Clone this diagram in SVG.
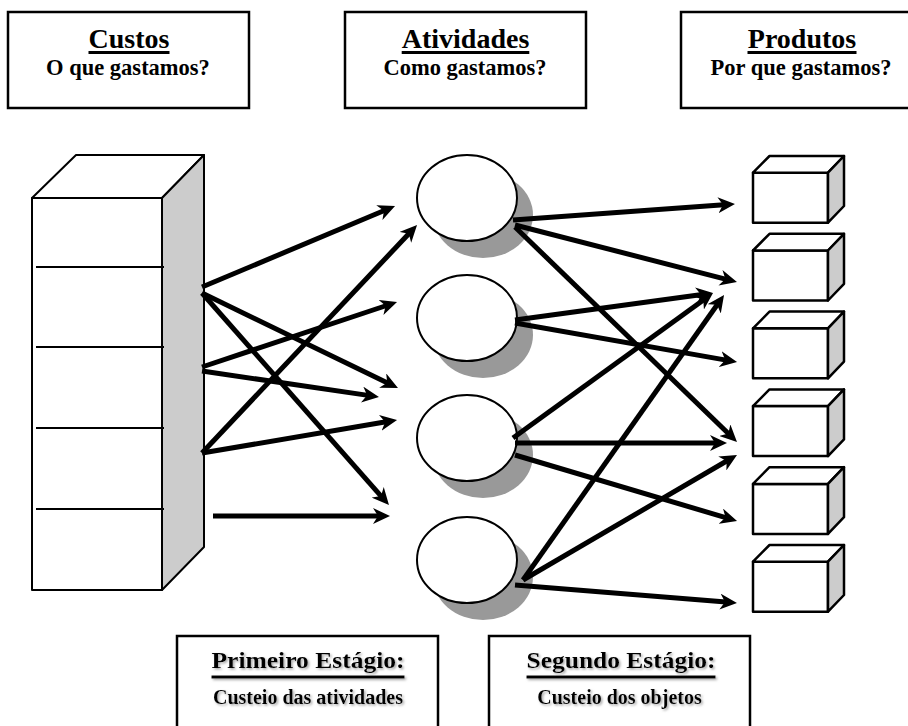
<svg xmlns="http://www.w3.org/2000/svg" width="908" height="726" viewBox="0 0 908 726">
  <style>
    .frame { fill: #ffffff; stroke: #000000; stroke-width: 2.5; }
    .title { font-family: "Liberation Serif", "Times New Roman", serif; font-weight: bold; font-size: 28px; text-anchor: middle; fill: #000000; }
    .sub { font-family: "Liberation Serif", "Times New Roman", serif; font-weight: bold; font-size: 22.5px; text-anchor: middle; fill: #000000; }
    .stage { font-family: "Liberation Serif", "Times New Roman", serif; font-weight: bold; font-size: 23px; text-anchor: middle; fill: #000000; }
    .stagesub { font-family: "Liberation Serif", "Times New Roman", serif; font-weight: bold; font-size: 20px; text-anchor: middle; fill: #000000; }
    .uline { stroke: #000000; stroke-width: 3; }
    .face { fill: #ffffff; stroke: #000000; stroke-width: 2; stroke-linejoin: round; }
    .side { fill: #cccccc; stroke: #000000; stroke-width: 2; stroke-linejoin: round; }
    .shelf { stroke: #000000; stroke-width: 2; }
    .bface { fill: #ffffff; stroke: #000000; stroke-width: 2.5; stroke-linejoin: round; }
    .bside { fill: #cccccc; stroke: #000000; stroke-width: 2.5; stroke-linejoin: round; }
    .act { fill: #ffffff; stroke: #000000; stroke-width: 2; }
    .actshadow { fill: #999999; }
    .flow { stroke: #000000; stroke-width: 5; fill: none; marker-end: url(#head); }
  </style>
  <defs>
    <marker id="head" markerUnits="userSpaceOnUse" viewBox="0 0 17 16" markerWidth="17" markerHeight="16" refX="6" refY="8" orient="auto">
      <path d="M0,0 L17,8 L0,16 L5,8 Z" fill="#000000"/>
    </marker>
    <filter id="soft" x="-10%" y="-30%" width="120%" height="160%">
      <feDropShadow dx="1.5" dy="1.5" stdDeviation="0.8" flood-color="#808080" flood-opacity="0.7"/>
    </filter>
  </defs>

  <rect width="908" height="726" fill="#ffffff"/>

  <!-- header boxes -->
  <g id="header-custos">
    <rect class="frame" x="8" y="12" width="241" height="96"/>
    <text class="title" x="129" y="48">Custos</text>
    <line class="uline" x1="88.5" y1="52.5" x2="169.5" y2="52.5"/>
    <text class="sub" x="128" y="75">O que gastamos?</text>
  </g>
  <g id="header-atividades">
    <rect class="frame" x="345" y="12" width="241" height="96"/>
    <text class="title" x="465.5" y="48">Atividades</text>
    <line class="uline" x1="401.7" y1="52.5" x2="529.3" y2="52.5"/>
    <text class="sub" x="465" y="75">Como gastamos?</text>
  </g>
  <g id="header-produtos">
    <rect class="frame" x="681" y="12" width="241" height="96"/>
    <text class="title" x="802" y="48">Produtos</text>
    <line class="uline" x1="747.5" y1="52.5" x2="856.5" y2="52.5"/>
    <text class="sub" x="801" y="75">Por que gastamos?</text>
  </g>

  <!-- cost stack -->
  <g id="node-custos">
    <rect class="face" x="32" y="198" width="130" height="392"/>
    <polygon class="face" points="32,198 76,155 204,155 162,198"/>
    <polygon class="side" points="162,198 204,155 204,547 162,590"/>
    <line class="shelf" x1="36" y1="267" x2="164" y2="267"/>
    <line class="shelf" x1="36" y1="347" x2="164" y2="347"/>
    <line class="shelf" x1="36" y1="428" x2="164" y2="428"/>
    <line class="shelf" x1="36" y1="509" x2="164" y2="509"/>
  </g>

  <!-- activities -->
  <g id="node-atividade-1">
    <ellipse class="actshadow" cx="483" cy="215" rx="50" ry="43"/>
    <ellipse class="act" cx="467" cy="198" rx="50" ry="43"/>
  </g>
  <g id="node-atividade-2">
    <ellipse class="actshadow" cx="483" cy="335" rx="50" ry="43"/>
    <ellipse class="act" cx="467" cy="318" rx="50" ry="43"/>
  </g>
  <g id="node-atividade-3">
    <ellipse class="actshadow" cx="483" cy="455" rx="50" ry="43"/>
    <ellipse class="act" cx="467" cy="438" rx="50" ry="43"/>
  </g>
  <g id="node-atividade-4">
    <ellipse class="actshadow" cx="483" cy="577" rx="50" ry="43"/>
    <ellipse class="act" cx="467" cy="560" rx="50" ry="43"/>
  </g>

  <!-- products -->
  <g id="node-produto-1">
    <rect class="bface" x="753" y="172.7" width="75" height="50"/>
    <polygon class="bface" points="753,172.7 769.5,156 844,156 828,172.7"/>
    <polygon class="bside" points="828,172.7 844,156 844,206 828,222.7"/>
  </g>
  <g id="node-produto-2">
    <rect class="bface" x="753" y="250.5" width="75" height="50"/>
    <polygon class="bface" points="753,250.5 769.5,233.8 844,233.8 828,250.5"/>
    <polygon class="bside" points="828,250.5 844,233.8 844,283.8 828,300.5"/>
  </g>
  <g id="node-produto-3">
    <rect class="bface" x="753" y="328.3" width="75" height="50"/>
    <polygon class="bface" points="753,328.3 769.5,311.6 844,311.6 828,328.3"/>
    <polygon class="bside" points="828,328.3 844,311.6 844,361.6 828,378.3"/>
  </g>
  <g id="node-produto-4">
    <rect class="bface" x="753" y="406.1" width="75" height="50"/>
    <polygon class="bface" points="753,406.1 769.5,389.4 844,389.4 828,406.1"/>
    <polygon class="bside" points="828,406.1 844,389.4 844,439.4 828,456.1"/>
  </g>
  <g id="node-produto-5">
    <rect class="bface" x="753" y="483.9" width="75" height="50"/>
    <polygon class="bface" points="753,483.9 769.5,467.2 844,467.2 828,483.9"/>
    <polygon class="bside" points="828,483.9 844,467.2 844,517.2 828,533.9"/>
  </g>
  <g id="node-produto-6">
    <rect class="bface" x="753" y="561.7" width="75" height="50"/>
    <polygon class="bface" points="753,561.7 769.5,545 844,545 828,561.7"/>
    <polygon class="bside" points="828,561.7 844,545 844,595 828,611.7"/>
  </g>

  <!-- stage boxes -->
  <g id="stage-primeiro">
    <rect class="frame" x="177" y="636" width="261" height="110"/>
    <g filter="url(#soft)">
      <text class="stage" x="308" y="668" textLength="193" lengthAdjust="spacingAndGlyphs">Primeiro Estágio:</text>
      <line class="uline" x1="211.5" y1="677" x2="404.5" y2="677"/>
      <text class="stagesub" x="308" y="704">Custeio das atividades</text>
    </g>
  </g>
  <g id="stage-segundo">
    <rect class="frame" x="489" y="636" width="261" height="110"/>
    <g filter="url(#soft)">
      <text class="stage" x="621" y="668" textLength="189" lengthAdjust="spacingAndGlyphs">Segundo Estágio:</text>
      <line class="uline" x1="526.5" y1="677" x2="715.5" y2="677"/>
      <text class="stagesub" x="619.5" y="704">Custeio dos objetos</text>
    </g>
  </g>

  <!-- connectors -->
  <g id="connectors">
    <!-- first stage: costs to activities -->
    <line class="flow" x1="202" y1="287" x2="384.9" y2="210.3"/>
    <line class="flow" x1="202" y1="293" x2="388.1" y2="383.2"/>
    <line class="flow" x1="202" y1="293" x2="381.7" y2="496.8"/>
    <line class="flow" x1="202" y1="367" x2="386.6" y2="305.5"/>
    <line class="flow" x1="202" y1="371" x2="368.1" y2="395.4"/>
    <line class="flow" x1="202" y1="453" x2="409.5" y2="233"/>
    <line class="flow" x1="202" y1="453" x2="386.2" y2="421.8"/>
    <line class="flow" x1="213" y1="516" x2="379" y2="516"/>
    <!-- second stage: activities to products -->
    <line class="flow" x1="513" y1="220" x2="724" y2="204.8"/>
    <line class="flow" x1="515" y1="225" x2="726.3" y2="279.3"/>
    <line class="flow" x1="515" y1="227" x2="729.1" y2="434.3"/>
    <line class="flow" x1="515" y1="320" x2="702.1" y2="294.5"/>
    <line class="flow" x1="515" y1="323" x2="726.2" y2="360.1"/>
    <line class="flow" x1="513" y1="438" x2="704.1" y2="299.5"/>
    <line class="flow" x1="515" y1="443" x2="716" y2="443"/>
    <line class="flow" x1="515" y1="455" x2="726.5" y2="517.9"/>
    <line class="flow" x1="523" y1="580" x2="717.7" y2="304"/>
    <line class="flow" x1="523" y1="580" x2="727.5" y2="460.5"/>
    <line class="flow" x1="515" y1="585" x2="726" y2="602.1"/>
  </g>
</svg>
